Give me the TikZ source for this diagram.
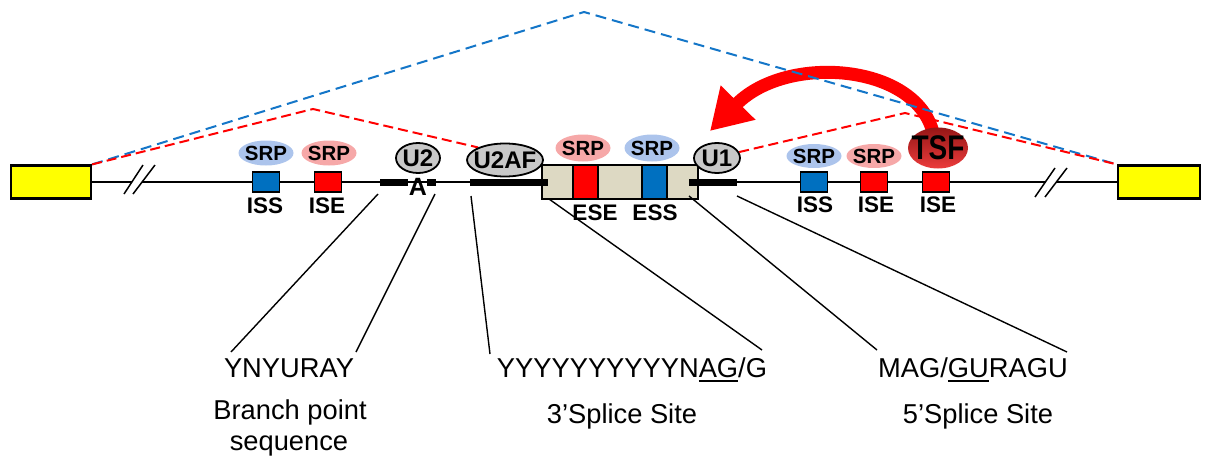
\documentclass[tikz,border=0pt]{standalone}
\usepackage{fontspec}
\setmainfont{Liberation Sans}
\usetikzlibrary{arrows.meta,shapes.geometric,backgrounds}
\definecolor{yfill}{RGB}{255,255,0}
\definecolor{sblue}{RGB}{0,112,192}
\definecolor{dblue}{RGB}{20,118,200}
\definecolor{srpb}{RGB}{172,196,236}
\definecolor{srpr}{RGB}{246,168,168}
\definecolor{exonc}{RGB}{221,217,195}
\definecolor{ugray}{RGB}{200,200,200}
\definecolor{tsftop}{RGB}{150,22,22}
\definecolor{tsfbot}{RGB}{235,60,60}
\newcommand\myul[1]{\setbox0\hbox{#1}\rlap{\rule[-4.5pt]{\wd0}{1.8pt}}\box0}
\begin{document}
\begin{tikzpicture}[x=1pt,y=-1pt,
  gene/.style={line width=1.5pt},
  yellowbox/.style={rectangle, draw, line width=2.2pt, fill=yfill, minimum width=80pt, minimum height=33pt, inner sep=0pt},
  elem/.style={rectangle, draw, line width=1.8pt, minimum width=27pt, minimum height=20pt, inner sep=0pt},
  srp/.style={ellipse, inner sep=0pt, minimum width=55pt, minimum height=25pt, font=\fontsize{20.5}{21}\selectfont\bfseries},
  snrnp/.style={ellipse, draw, line width=1.8pt, fill=ugray, inner sep=0pt, font=\fontsize{24}{24}\selectfont\bfseries},
  elab/.style={anchor=base, inner sep=0pt, font=\fontsize{22.5}{23}\selectfont\bfseries},
  seqtext/.style={anchor=base, inner sep=0pt, font=\fontsize{27.3}{31}\selectfont},
  leader/.style={line width=1.4pt},
  bar/.style={line width=7pt},
  bluedash/.style={draw=dblue, line width=2pt, dash pattern=on 11pt off 6pt},
  reddash/.style={draw=red, line width=2pt, dash pattern=on 10pt off 5pt},
  slash/.style={line width=1.5pt}
]
\useasboundingbox (0,0) rectangle (1211,458);

% coordinates
\coordinate (brk1a) at (132,182);
\coordinate (brk1b) at (142,182);
\coordinate (brk2a) at (1046,182);
\coordinate (brk2b) at (1056,182);
\coordinate (s1a) at (124,194); \coordinate (s1b) at (143,165);
\coordinate (s2a) at (133,194); \coordinate (s2b) at (155,165);
\coordinate (s3a) at (1035,197); \coordinate (s3b) at (1055,168);
\coordinate (s4a) at (1045,197); \coordinate (s4b) at (1067,168);

% main line
\node[yellowbox] (lbox) at (51,182) {};
\node[yellowbox, minimum width=82pt] (rbox) at (1159,182) {};
\draw[gene] (lbox.east) -- (brk1a);
\draw[gene] (brk1b) -- (brk2a);
\draw[gene] (brk2b) -- (rbox.west);
\draw[slash] (s1a) -- (s1b);
\draw[slash] (s2a) -- (s2b);
\draw[slash] (s3a) -- (s3b);
\draw[slash] (s4a) -- (s4b);

% intron left elements
\node[elem, fill=sblue] (issL) at (266,182) {};
\node[elem, fill=red] (iseL) at (328,182) {};
\node[srp, fill=srpb] (srp1) at (266,153) {\makebox[0pt]{SRP}};
\node[srp, fill=srpr] (srp2) at (329,153) {\makebox[0pt]{SRP}};
\node[elab] (lissL) at (265,213) {ISS};
\node[elab] (liseL) at (327,213) {ISE};

% branch point, U2, U2AF
\node[snrnp, minimum width=44pt, minimum height=30pt] (u2) at (418,158) {\makebox[0pt]{U2}};
\node[snrnp, minimum width=76pt, minimum height=33pt] (u2af) at (505,160) {\makebox[0pt]{U2AF}};

% exon
\node[rectangle, draw, line width=2pt, fill=exonc, minimum width=156pt, minimum height=34pt, inner sep=0pt] (exon) at (620,182) {};
\node[elem, fill=red, minimum width=25pt, minimum height=34pt] (ese) at (585.5,182) {};
\node[elem, fill=sblue, minimum width=25pt, minimum height=34pt] (ess) at (654.5,182) {};
\node[srp, fill=srpr, minimum height=27pt] (srp3) at (583,148) {\makebox[0pt]{SRP}};
\node[srp, fill=srpb, minimum height=27pt] (srp4) at (652,148) {\makebox[0pt]{SRP}};
\node[elab] (lese) at (595,220) {ESE};
\node[elab] (less) at (655,220) {ESS};
\node[snrnp, minimum width=46pt, minimum height=30pt] (u1) at (717,158) {\makebox[0pt]{U1}};

% intron right elements
\node[elem, fill=sblue] (issR) at (814,182) {};
\node[elem, fill=red] (iseR) at (874,182) {};
\node[elem, fill=red] (iseT) at (936,182) {};
\node[srp, fill=srpb, minimum height=24pt] (srp5) at (814,156) {\makebox[0pt]{SRP}};
\node[srp, fill=srpr, minimum height=24pt] (srp6) at (874,156) {\makebox[0pt]{SRP}};
\node[ellipse, inner sep=0pt, minimum width=60pt, minimum height=41pt, top color=tsftop, bottom color=tsfbot, font=\fontsize{28}{28}\selectfont\bfseries] (tsf) at (938,148) {\makebox[0pt]{\scalebox{1}[1.22]{TSF}}};
\node[elab] (lissR) at (815,212) {ISS};
\node[elab] (liseR) at (876,212) {ISE};
\node[elab] (liseT) at (938,212) {ISE};

% thick bars
\draw[bar] (380,182.5) coordinate (b1a) -- (408,182.5) coordinate (b1b);
\draw[bar] (427,182.5) coordinate (b2a) -- (436,182.5) coordinate (b2b);
\draw[bar] (470,182.5) coordinate (b3a) -- (548,182.5) coordinate (b3b);
\draw[bar] (689,182.5) coordinate (b4a) -- (737,182.5) coordinate (b4b);
\node[anchor=base, inner sep=0pt, font=\fontsize{25}{25}\selectfont\bfseries] (abp) at (418,195) {A};

% sequence texts
\node[seqtext] (ynyuray) at (289,377) {YNYURAY};
\node[seqtext] (bps1) at (290,419) {Branch point};
\node[seqtext] (bps2) at (289,450) {sequence};
\node[seqtext] (seq3) at (632,377) {YYYYYYYYYYN\myul{AG}/G};
\node[seqtext] (ss3) at (622,423) {3’Splice Site};
\node[seqtext] (seq5) at (973,377) {MAG/\myul{GU}RAGU};
\node[seqtext] (ss5) at (978,423) {5’Splice Site};

% leader lines
\coordinate (l1a) at (378,194); \coordinate (l1b) at (231,352);
\coordinate (l2a) at (435,194); \coordinate (l2b) at (356,352);
\coordinate (l3a) at (471,196); \coordinate (l3b) at (490,354);
\coordinate (l4a) at (549,199); \coordinate (l4b) at (762,350);
\coordinate (l5a) at (689,196); \coordinate (l5b) at (877,350);
\coordinate (l6a) at (737,196); \coordinate (l6b) at (1067,352);
\draw[leader] (l1a) -- (l1b);
\draw[leader] (l2a) -- (l2b);
\draw[leader] (l3a) -- (l3b);
\draw[leader] (l4a) -- (l4b);
\draw[leader] (l5a) -- (l5b);
\draw[leader] (l6a) -- (l6b);

% background: arrow and dashed splicing lines
\coordinate (bpeak) at (584,12);
\coordinate (rpeakL) at (313,109);
\coordinate (rpeakR) at (905,113);
\coordinate (atip) at (710,131);
\begin{pgfonlayer}{background}
\draw[red, line width=13pt, -{Triangle[length=40pt,width=46pt]}] ([xshift=-3pt]tsf.center) .. controls (934,65) and (790,50) .. (atip);
\draw[bluedash] (lbox.north east) -- (bpeak) -- (rbox.north west);
\draw[reddash] (lbox.north east) -- (rpeakL) -- (u2af.155);
\draw[reddash] (u1.15) -- (rpeakR) -- (rbox.north west);
\end{pgfonlayer}
\end{tikzpicture}
\end{document}
